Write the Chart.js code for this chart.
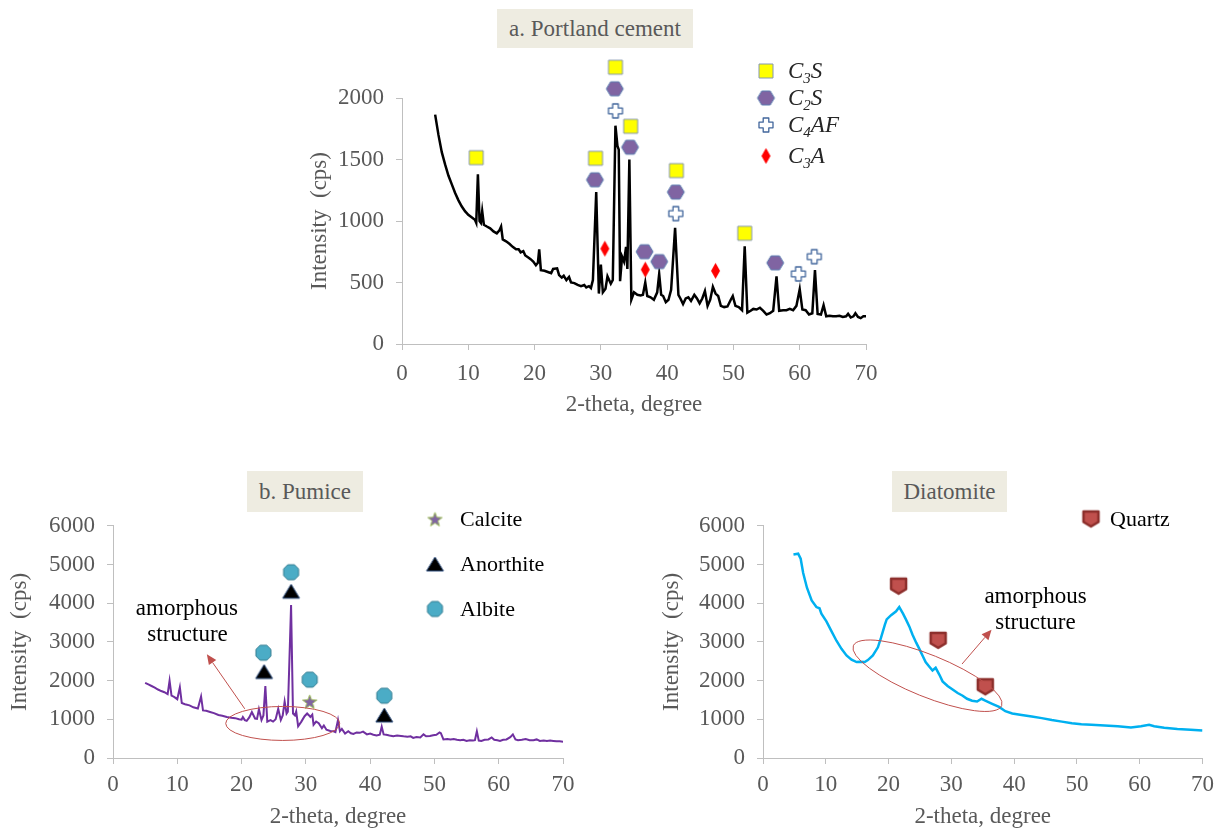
<!DOCTYPE html>
<html>
<head>
<meta charset="utf-8">
<title>XRD patterns</title>
<script src="https://cdn.jsdelivr.net/npm/chart.js@4.4.0/dist/chart.umd.min.js"></script>
<style>
  body { margin: 0; background: #fff; width: 1221px; height: 830px; position: relative; overflow: hidden;
         font-family: "Liberation Serif", "Times New Roman", serif; }
  canvas { position: absolute; }
  .panel_title { position: absolute; background: #EEECE1; color: #595959; font-size: 23px; text-align: center; }
</style>
</head>
<body>
<canvas id="cement_chart" width="620" height="370" style="left:290px;top:55px"></canvas>
<canvas id="pumice_chart" width="600" height="335" style="left:0px;top:500px"></canvas>
<canvas id="diatomite_chart" width="601" height="335" style="left:620px;top:500px"></canvas>
<div class="panel_title" style="left:497px;top:9px;width:196px;height:39px;line-height:39px">a. Portland cement</div>
<div class="panel_title" style="left:247px;top:471px;width:116px;height:41px;line-height:41px">b. Pumice</div>
<div class="panel_title" style="left:892px;top:471px;width:115px;height:41px;line-height:41px">Diatomite</div>
<script>
// ---- Portland cement pattern ----
const cementTheta = [5.0, 5.5, 6.0, 6.5, 7.0, 7.5, 8.0, 8.5, 9.0, 9.5, 10.0, 10.5, 11.0, 11.2, 11.45, 11.7, 11.9, 12.1, 12.35,
  12.8, 13.3, 13.8, 14.3, 14.7, 14.95, 15.2, 15.7, 16.2, 16.7, 17.2, 17.6, 17.9, 18.3, 18.6, 19.0, 19.4, 19.8, 20.2, 20.5,
  20.7, 20.95, 21.5, 22.0, 22.5, 22.8, 23.4, 23.7, 24.1, 24.4, 24.8, 25.2, 25.5, 26.0, 26.5, 27.0, 27.5, 27.8, 28.2, 28.5,
  28.8, 29.3, 29.7, 30.0, 30.3, 30.7, 31.0, 31.5, 31.8, 32.2, 32.5, 32.7, 32.9, 33.2, 33.5, 33.8, 34.0, 34.3, 34.6, 35.0,
  35.5, 36.0, 36.35, 36.7, 37.0, 37.5, 38.0, 38.5, 38.8, 39.1, 39.4, 39.8, 40.2, 40.6, 41.2, 41.7, 42.0, 42.4, 42.8, 43.2,
  43.6, 44.1, 44.5, 44.9, 45.3, 45.7, 46.1, 46.5, 46.9, 47.3, 47.7, 48.1, 48.6, 49.1, 49.6, 49.9, 50.3, 50.8, 51.3, 51.7,
  52.1, 52.6, 53.0, 53.5, 54.0, 54.5, 55.0, 55.5, 56.0, 56.5, 56.9, 57.5, 58.0, 58.5, 59.0, 59.5, 60.0, 60.4, 60.9, 61.4,
  61.9, 62.3, 62.7, 63.2, 63.6, 64.0, 64.5, 65.0, 65.5, 66.0, 66.5, 67.0, 67.3, 67.7, 68.1, 68.4, 68.8, 69.2, 69.6, 70.0];
const cementCps = [1865, 1700, 1560, 1460, 1370, 1300, 1230, 1170, 1120, 1080, 1050, 1030, 1010, 985, 1380, 1000, 985, 1080, 970,
  955, 940, 915, 900, 925, 955, 850, 835, 815, 790, 770, 770, 745, 755, 720, 705, 690, 670, 640, 660,
  770, 600, 595, 585, 575, 610, 615, 560, 540, 555, 520, 545, 500, 495, 480, 470, 480, 460, 470, 455,
  520, 1235, 410, 645, 420, 450, 550, 490, 520, 1775, 1610, 1580, 510, 710, 670, 790, 610, 1500, 360, 420,
  400, 395, 400, 500, 390, 380, 360, 420, 570, 400, 390, 340, 360, 440, 945, 400, 370, 325, 370, 380,
  350, 400, 370, 330, 370, 430, 310, 360, 465, 410, 390, 310, 300, 305, 360, 390, 310, 300, 275, 795,
  255, 270, 285, 280, 295, 270, 240, 250, 270, 550, 270, 275, 275, 285, 275, 310, 445, 280, 275, 240,
  250, 600, 245, 240, 315, 225, 230, 225, 225, 230, 220, 225, 245, 215, 225, 250, 220, 210, 225, 225];

// phase peaks marked on the cement pattern
const cementPhases = ['C_3S', 'C_2S', 'C_4AF', 'C_3A'];
const c3sTheta = [11.2, 29.2, 32.2, 34.5, 41.4, 51.7];
const c3sCps = [1515, 1510, 2250, 1770, 1410, 900];
const c2sTheta = [29.1, 32.1, 34.4, 36.6, 38.8, 41.3, 56.3];
const c2sCps = [1335, 2075, 1600, 750, 670, 1235, 660];
const c4afTheta = [32.2, 41.3, 59.8, 62.2];
const c4afCps = [1895, 1060, 570, 710];
const c3aTheta = [30.6, 36.7, 47.3];
const c3aCps = [775, 605, 595];

// ---- Pumice pattern ----
const pumiceTheta = [5.0, 5.5, 6.0, 6.5, 7.0, 7.5, 8.0, 8.5, 8.8, 9.1, 9.5, 10.0, 10.4, 10.7, 11.2, 11.9, 12.5, 13.2, 13.7,
  14.0, 14.5, 15.1, 15.7, 16.4, 17.0, 17.7, 18.4, 19.0, 19.6, 20.0, 20.2, 20.5, 20.8, 21.2, 21.6, 22.1, 22.4, 22.7, 23.1,
  23.4, 23.7, 24.0, 24.5, 24.9, 25.3, 25.7, 26.1, 26.4, 26.7, 27.0, 27.2, 27.7, 28.0, 28.3, 28.5, 28.8, 29.3, 29.8, 30.2,
  30.5, 30.7, 31.0, 31.2, 31.6, 32.0, 32.5, 32.8, 33.2, 33.8, 34.3, 34.6, 35.0, 35.3, 35.6, 36.1, 36.6, 37.0, 37.4, 37.9,
  38.4, 38.9, 39.5, 40.0, 40.5, 41.0, 41.5, 41.8, 42.1, 42.5, 43.0, 43.6, 44.2, 44.8, 45.2, 45.8, 46.3, 46.7, 47.2, 47.8,
  48.3, 48.7, 49.3, 49.8, 50.3, 50.8, 51.0, 51.4, 52.0, 52.5, 53.0, 53.5, 54.0, 54.5, 55.0, 55.5, 56.0, 56.3, 56.6, 56.9,
  57.3, 57.8, 58.4, 58.9, 59.3, 59.8, 60.2, 60.7, 61.2, 61.8, 62.2, 62.6, 63.0, 63.6, 64.2, 64.8, 65.4, 65.9, 66.4, 67.0,
  67.5, 68.0, 68.5, 69.0, 69.5, 70.0];
const pumiceCps = [1940, 1900, 1860, 1820, 1770, 1730, 1700, 1650, 2000, 1610, 1580, 1520, 1830, 1420, 1390, 1360, 1310, 1280, 1590,
  1230, 1220, 1190, 1160, 1110, 1090, 1060, 1040, 1030, 1000, 990, 1060, 980, 960, 1050, 1190, 1020, 1010, 1260, 980,
  1100, 1860, 940, 980, 940, 1000, 1270, 980, 1100, 1460, 1150, 1200, 3950, 1150, 1100, 1200, 820, 940, 1080, 1150,
  1100, 1060, 1120, 860, 940, 900, 770, 840, 730, 700, 690, 670, 980, 690, 750, 630, 690, 640, 620, 660,
  650, 680, 610, 630, 600, 580, 600, 810, 610, 600, 580, 560, 580, 570, 560, 550, 560, 520, 540, 530,
  610, 560, 570, 590, 600, 660, 640, 480, 490, 480, 490, 470, 460, 470, 440, 460, 450, 460, 690, 450,
  440, 470, 480, 530, 470, 460, 440, 470, 480, 540, 610, 480, 460, 470, 490, 460, 460, 480, 440, 450,
  440, 450, 440, 430, 430, 420];

const pumicePhases = ['Calcite', 'Anorthite', 'Albite'];
const calciteTheta = [30.6];
const calciteCps = [1460];
const anorthiteTheta = [23.5, 27.7, 42.2];
const anorthiteCps = [2235, 4310, 1110];
const albiteTheta = [23.4, 27.7, 30.6, 42.2];
const albiteCps = [2720, 4800, 2025, 1610];

// ---- Diatomite pattern ----
const diatomiteTheta = [4.85, 5.6, 6.0, 6.4, 7.0, 7.75, 8.5, 9.0, 9.3, 10.1, 10.9, 11.7, 12.5, 13.3, 14.1, 14.9, 15.4, 16.2,
  16.7, 17.5, 18.3, 18.8, 19.4, 19.7, 20.4, 21.2, 21.7, 22.3, 22.8, 23.3, 23.8, 24.4, 24.9, 25.4, 25.9, 26.5, 27.0, 27.5,
  28.1, 28.6, 29.4, 30.2, 31.0, 31.8, 32.5, 33.3, 34.1, 34.8, 35.4, 36.5, 37.6, 38.6, 39.7, 41.2, 42.8, 44.4, 46.0, 47.6,
  49.2, 50.7, 52.3, 54.4, 56.5, 58.6, 60.2, 61.5, 62.3, 63.9, 66.0, 68.1, 70.0];
const diatomiteCps = [5260, 5280, 5150, 4780, 4400, 4070, 3900, 3870, 3730, 3530, 3280, 3030, 2820, 2650, 2540, 2480, 2490, 2480,
  2530, 2650, 2860, 3110, 3440, 3580, 3690, 3790, 3900, 3730, 3570, 3400, 3190, 2980, 2820, 2650, 2480, 2360, 2260, 2330,
  2150, 1980, 1860, 1770, 1680, 1610, 1530, 1480, 1460, 1530, 1480, 1400, 1320, 1210, 1150, 1110, 1070, 1030, 980, 940,
  900, 870, 860, 840, 820, 790, 820, 860, 820, 780, 750, 730, 710];

const diatomitePhases = ['Quartz'];
const quartzTheta = [21.6, 27.9, 35.4];
const quartzCps = [4440, 3040, 1840];

const FONT = '"Liberation Serif", "Times New Roman", serif';
Chart.defaults.font.family = FONT;
Chart.defaults.color = '#595959';

// small offscreen canvases used as point styles
function markerImage(shape, w, h, fill, stroke, lw) {
  const pad = Math.ceil(lw || 0) + 1;
  const c = document.createElement('canvas');
  c.width = w + pad * 2;
  c.height = h + pad * 2;
  const ctx = c.getContext('2d');
  ctx.translate(pad, pad);
  ctx.lineJoin = 'round';
  ctx.beginPath();
  if (shape === 'square') {
    ctx.rect(0, 0, w, h);
  } else if (shape === 'hexagon') {
    ctx.moveTo(0, h / 2); ctx.lineTo(w * 0.25, 0); ctx.lineTo(w * 0.75, 0);
    ctx.lineTo(w, h / 2); ctx.lineTo(w * 0.75, h); ctx.lineTo(w * 0.25, h);
  } else if (shape === 'plus') {
    const a = w * 0.3, b = h * 0.3;
    ctx.moveTo(a, 0); ctx.lineTo(w - a, 0); ctx.lineTo(w - a, b); ctx.lineTo(w, b);
    ctx.lineTo(w, h - b); ctx.lineTo(w - a, h - b); ctx.lineTo(w - a, h); ctx.lineTo(a, h);
    ctx.lineTo(a, h - b); ctx.lineTo(0, h - b); ctx.lineTo(0, b); ctx.lineTo(a, b);
  } else if (shape === 'diamond') {
    ctx.moveTo(w / 2, 0); ctx.lineTo(w, h / 2); ctx.lineTo(w / 2, h); ctx.lineTo(0, h / 2);
  } else if (shape === 'triangle') {
    ctx.moveTo(w / 2, 0); ctx.lineTo(w, h); ctx.lineTo(0, h);
  } else if (shape === 'star') {
    const cx = w / 2, cy = h / 2 + h * 0.06, ro = w / 2, ri = ro * 0.42;
    for (let i = 0; i < 10; i++) {
      const r = i % 2 ? ri : ro;
      const a = -Math.PI / 2 + i * Math.PI / 5;
      ctx.lineTo(cx + r * Math.cos(a), cy + r * Math.sin(a));
    }
  } else if (shape === 'octagon') {
    const k = w * 0.28;
    ctx.moveTo(k, 0); ctx.lineTo(w - k, 0); ctx.lineTo(w, k); ctx.lineTo(w, h - k);
    ctx.lineTo(w - k, h); ctx.lineTo(k, h); ctx.lineTo(0, h - k); ctx.lineTo(0, k);
  } else if (shape === 'shield') {
    ctx.moveTo(0, 0); ctx.lineTo(w, 0); ctx.lineTo(w, h * 0.7); ctx.lineTo(w / 2, h);
    ctx.lineTo(0, h * 0.7);
  }
  ctx.closePath();
  ctx.fillStyle = fill;
  ctx.fill();
  if (stroke) {
    ctx.strokeStyle = stroke;
    ctx.lineWidth = lw;
    ctx.stroke();
  }
  return c;
}

const squareMark = markerImage('square', 14, 14, '#FFFF00', '#8497B0', 1);
const hexMark = markerImage('hexagon', 17, 14, '#8064A2', '#5A7DB0', 1);
const plusMark = markerImage('plus', 14, 14, '#FFFFFF', '#41669C', 1.3);
const diamondMark = markerImage('diamond', 9, 16, '#FF0000', null, 0);
const starMark = markerImage('star', 15, 15, '#8064A2', '#9BBB59', 1);
const triangleMark = markerImage('triangle', 17, 14, '#000000', '#2F4F7F', 1);
const octagonMark = markerImage('octagon', 15, 15, '#4BACC6', '#357D91', 1);
const shieldMark = markerImage('shield', 15, 15, '#C0504D', '#8C2E2B', 2.5);

function points(xs, ys) {
  return xs.map((x, i) => ({x: x, y: ys[i]}));
}

function curve(xs, ys, color, width) {
  return {data: points(xs, ys), showLine: true, borderColor: color, borderWidth: width,
    pointRadius: 0, tension: 0, fill: false};
}

function peaks(xs, ys, img) {
  return {data: points(xs, ys), showLine: false, pointStyle: img, pointRadius: 8, clip: false};
}

// peak markers may sit above the top of the y axis; points outside the
// chart area are skipped by Chart.js, so open the area while datasets draw
const openTop = {
  id: 'openTop',
  beforeDatasetsDraw(chart) {
    chart.$savedTop = chart.chartArea.top;
    chart.chartArea.top = 0;
  },
  afterDatasetsDraw(chart) {
    chart.chartArea.top = chart.$savedTop;
  }
};

// draws "C_3S" style labels with the digit lowered as a subscript
function drawLabel(ctx, text, x, y, size, italic, color) {
  const parts = text.split(/_(\d)/);
  const base = y + size * 0.32;
  ctx.fillStyle = color;
  ctx.textAlign = 'left';
  ctx.textBaseline = 'alphabetic';
  let cx = x;
  parts.forEach((p, i) => {
    const sub = i % 2 === 1;
    const fs = sub ? Math.round(size * 0.65) : size;
    ctx.font = (italic ? 'italic ' : '') + fs + 'px ' + FONT;
    ctx.fillText(p, cx, sub ? base + size * 0.22 : base);
    cx += ctx.measureText(p).width;
  });
}

const phaseLegend = {
  id: 'phaseLegend',
  afterDatasetsDraw(chart, args, opts) {
    const ctx = chart.ctx;
    ctx.save();
    opts.labels.forEach((label, i) => {
      const img = opts.marks[i];
      const y = opts.rows[i];
      ctx.drawImage(img, opts.markX - img.width / 2, y - img.height / 2);
      drawLabel(ctx, label, opts.textX, y, opts.size, opts.italic, opts.color);
    });
    ctx.restore();
  }
};

// ellipses, arrows and notes placed in data units
const xrdNotes = {
  id: 'xrdNotes',
  afterDatasetsDraw(chart, args, opts) {
    const {ctx} = chart;
    const xs = chart.scales.x, ys = chart.scales.y;
    const px = (t) => xs.getPixelForValue(t);
    const py = (c) => ys.getPixelForValue(c);
    ctx.save();
    ctx.strokeStyle = opts.color;
    ctx.fillStyle = opts.color;
    ctx.lineWidth = 1;
    (opts.ellipses || []).forEach((e) => {
      ctx.beginPath();
      ctx.ellipse(px(e.theta), py(e.cps), e.rx, e.ry, e.angle * Math.PI / 180, 0, Math.PI * 2);
      ctx.stroke();
    });
    (opts.arrows || []).forEach((a) => {
      const x0 = px(a.from[0]), y0 = py(a.from[1]);
      const x1 = px(a.to[0]), y1 = py(a.to[1]);
      const ang = Math.atan2(y1 - y0, x1 - x0);
      const hl = 10, hw = 4.5;
      const bx = x1 - hl * Math.cos(ang), by = y1 - hl * Math.sin(ang);
      ctx.beginPath();
      ctx.moveTo(x0, y0);
      ctx.lineTo(bx, by);
      ctx.stroke();
      ctx.beginPath();
      ctx.moveTo(x1, y1);
      ctx.lineTo(bx + hw * Math.sin(ang), by - hw * Math.cos(ang));
      ctx.lineTo(bx - hw * Math.sin(ang), by + hw * Math.cos(ang));
      ctx.closePath();
      ctx.fill();
    });
    ctx.fillStyle = '#000000';
    ctx.font = '23px ' + FONT;
    ctx.textAlign = 'center';
    ctx.textBaseline = 'middle';
    (opts.texts || []).forEach((t) => {
      ctx.fillText(t.text, px(t.theta), py(t.cps));
    });
    ctx.restore();
  }
};

function axes(cfg) {
  const tickFont = {size: 23, family: FONT};
  const line = '#BFBFBF';
  return {
    x: {
      type: 'linear', min: 0, max: 70,
      afterFit(scale) { scale.height = cfg.xHeight; },
      grid: {display: true, drawOnChartArea: false, drawTicks: true, tickLength: 6, color: line},
      border: {display: true, color: line},
      ticks: {stepSize: 10, font: tickFont, color: '#595959', padding: cfg.xTickPad, maxRotation: 0,
        callback: (v) => String(v)},
      title: {display: true, text: '2-theta, degree', font: {size: 23, family: FONT}, color: '#595959',
        padding: {top: 0, bottom: cfg.xTitlePad}}
    },
    y: {
      type: 'linear', min: 0, max: cfg.yMax,
      afterFit(scale) { scale.width = cfg.yWidth; },
      grid: {display: true, drawOnChartArea: false, drawTicks: true, tickLength: 6, color: line},
      border: {display: true, color: line},
      ticks: {stepSize: cfg.yStep, font: tickFont, color: '#595959', padding: 12,
        callback: (v) => String(v)},
      title: {display: true, text: 'Intensity  (cps)', font: {size: 23, family: FONT}, color: '#595959',
        padding: {top: cfg.yTitlePad, bottom: 0}}
    }
  };
}

function baseOptions(cfg, legend, notes) {
  return {
    responsive: false,
    animation: false,
    events: [],
    layout: {padding: cfg.padding},
    scales: axes(cfg),
    plugins: {
      legend: {display: false},
      tooltip: {enabled: false},
      phaseLegend: legend,
      xrdNotes: notes
    }
  };
}

new Chart(document.getElementById('cement_chart'), {
  type: 'scatter',
  data: {
    datasets: [
      peaks(c3sTheta, c3sCps, squareMark),
      peaks(c2sTheta, c2sCps, hexMark),
      peaks(c4afTheta, c4afCps, plusMark),
      peaks(c3aTheta, c3aCps, diamondMark),
      curve(cementTheta, cementCps, '#000000', 2.5)
    ]
  },
  options: baseOptions(
    {padding: {top: 43, right: 44, bottom: 0, left: 0}, xHeight: 81, yWidth: 112,
      yMax: 2000, yStep: 500, xTickPad: 10, xTitlePad: 6, yTitlePad: 16},
    {labels: cementPhases, marks: [squareMark, hexMark, plusMark, diamondMark],
      markX: 476, textX: 498, rows: [16, 43, 70, 101], size: 23, italic: true, color: '#262626'},
    {color: '#C0504D'}
  ),
  plugins: [openTop, xrdNotes, phaseLegend]
});

new Chart(document.getElementById('pumice_chart'), {
  type: 'scatter',
  data: {
    datasets: [
      peaks(calciteTheta, calciteCps, starMark),
      peaks(anorthiteTheta, anorthiteCps, triangleMark),
      peaks(albiteTheta, albiteCps, octagonMark),
      curve(pumiceTheta, pumiceCps, '#7030A0', 2)
    ]
  },
  options: baseOptions(
    {padding: {top: 19, right: 37, bottom: 0, left: 0}, xHeight: 77, yWidth: 113,
      yMax: 6000, yStep: 1000, xTickPad: 7, xTitlePad: 4, yTitlePad: 6},
    {labels: pumicePhases, marks: [starMark, triangleMark, octagonMark],
      markX: 435, textX: 460, rows: [19, 64, 109], size: 22, italic: false, color: '#000000'},
    {color: '#C0504D',
      ellipses: [{theta: 26.4, cps: 893, rx: 57, ry: 17, angle: 0}],
      arrows: [{from: [20.5, 1270], to: [14.6, 2680]}],
      texts: [{text: 'amorphous', theta: 11.5, cps: 3840}, {text: 'structure', theta: 11.6, cps: 3190}]}
  ),
  plugins: [openTop, xrdNotes, phaseLegend]
});

new Chart(document.getElementById('diatomite_chart'), {
  type: 'scatter',
  data: {
    datasets: [
      peaks(quartzTheta, quartzCps, shieldMark),
      curve(diatomiteTheta, diatomiteCps, '#00B0F0', 2.5)
    ]
  },
  options: baseOptions(
    {padding: {top: 19, right: 16, bottom: 0, left: 0}, xHeight: 77, yWidth: 143,
      yMax: 6000, yStep: 1000, xTickPad: 7, xTitlePad: 4, yTitlePad: 38},
    {labels: diatomitePhases, marks: [shieldMark],
      markX: 471, textX: 490, rows: [19], size: 22, italic: false, color: '#000000'},
    {color: '#C0504D',
      ellipses: [{theta: 26.2, cps: 2126, rx: 80, ry: 21, angle: 22}],
      arrows: [{from: [31.7, 2428], to: [36.4, 3316]}],
      texts: [{text: 'amorphous', theta: 43.4, cps: 4170}, {text: 'structure', theta: 43.4, cps: 3500}]}
  ),
  plugins: [openTop, xrdNotes, phaseLegend]
});
</script>
</body>
</html>
